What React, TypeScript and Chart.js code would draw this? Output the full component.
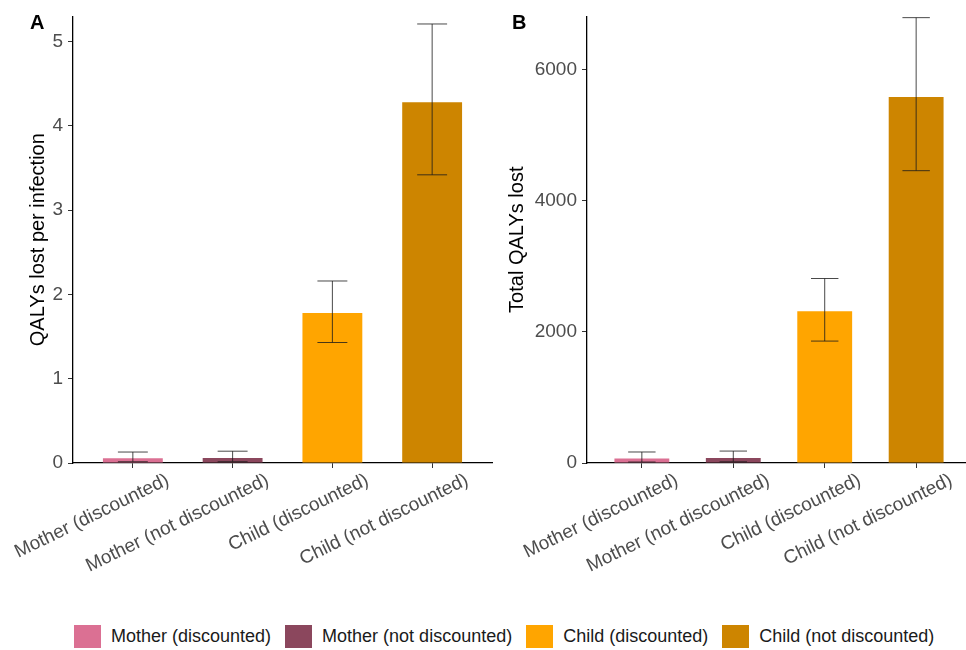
import React, { useEffect, useRef } from "react";
import { Chart, registerables } from "chart.js";
Chart.register(...registerables);

Chart.defaults.font.family = "'Liberation Sans', Arial, Helvetica, sans-serif";

const categories = [
  "Mother (discounted)",
  "Mother (not discounted)",
  "Child (discounted)",
  "Child (not discounted)",
];
const barColors = ["#DB7093", "#8B475D", "#FFA500", "#CD8500"];

const perInfection = [0.055, 0.06, 1.78, 4.28];
const perInfectionLow = [0.015, 0.015, 1.43, 3.42];
const perInfectionHigh = [0.13, 0.14, 2.16, 5.21];
const perInfectionTicks = [0, 1, 2, 3, 4, 5];

const totalLost = [70, 76, 2315, 5585];
const totalLow = [15, 18, 1860, 4460];
const totalHigh = [168, 182, 2815, 6795];
const totalTicks = [0, 2000, 4000, 6000];

const CANVAS_H = 600;
const PLOT_BOTTOM = 463;
const TICK_COLOR = "#4D4D4D";

type PanelProps = {
  values: number[];
  low: number[];
  high: number[];
  yMax: number;
  yTicks: number[];
  yTitle: string;
  label: string;
  labelX: number;
  left: number;
  width: number;
  yAxisWidth: number;
  titlePad: number;
  rightPad: number;
};

function Panel(p: PanelProps) {
  const ref = useRef<HTMLCanvasElement | null>(null);
  useEffect(() => {
    if (!ref.current) return;
    const errorBars = {
      id: "errorBars",
      afterDatasetsDraw(chart: any) {
        const { ctx } = chart;
        const x = chart.scales.x;
        const y = chart.scales.y;
        const capHalf = (x.getPixelForValue(1) - x.getPixelForValue(0)) * 0.15;
        ctx.save();
        ctx.strokeStyle = "#1a1a1a";
        ctx.lineWidth = 0.8;
        p.low.forEach((lo, i) => {
          const px = x.getPixelForValue(i);
          const yl = y.getPixelForValue(lo);
          const yh = y.getPixelForValue(p.high[i]);
          ctx.beginPath();
          ctx.moveTo(px, yl);
          ctx.lineTo(px, yh);
          ctx.moveTo(px - capHalf, yl);
          ctx.lineTo(px + capHalf, yl);
          ctx.moveTo(px - capHalf, yh);
          ctx.lineTo(px + capHalf, yh);
          ctx.stroke();
        });
        ctx.restore();
      },
    };
    const panelLabel = {
      id: "panelLabel",
      afterDraw(chart: any) {
        const { ctx } = chart;
        ctx.save();
        ctx.fillStyle = "#000";
        ctx.font = "bold 20px 'Liberation Sans', Arial, sans-serif";
        ctx.textAlign = "left";
        ctx.textBaseline = "alphabetic";
        ctx.fillText(p.label, p.labelX, 29);
        ctx.restore();
      },
    };
    const axisGrid = {
      drawOnChartArea: false,
      drawTicks: true,
      tickLength: 5,
      tickColor: "#333333",
      tickWidth: 1,
      offset: false,
    };
    const border = { display: true, color: "#000", width: 1.3 };
    const chart = new Chart(ref.current, {
      type: "bar",
      data: {
        datasets: [
          {
            data: p.values.map((v, i) => ({ x: i, y: v })),
            backgroundColor: barColors,
            borderWidth: 0,
            categoryPercentage: 1,
            barPercentage: 0.6,
          } as any,
        ],
      },
      options: {
        animation: false,
        responsive: false,
        devicePixelRatio: 1,
        layout: { padding: { top: 13, right: p.rightPad, left: 0, bottom: 0 } },
        plugins: { legend: { display: false }, tooltip: { enabled: false } },
        scales: {
          x: {
            type: "linear",
            offset: false,
            min: -0.6,
            max: 3.6,
            afterBuildTicks: (s: any) => {
              s.ticks = categories.map((_, i) => ({ value: i }));
            },
            afterFit: (s: any) => {
              s.height = CANVAS_H - PLOT_BOTTOM;
              s.paddingLeft = 0;
              s.paddingRight = 0;
            },
            ticks: {
              callback: (v: any) => categories[v as number],
              autoSkip: false,
              maxRotation: 26,
              minRotation: 26,
              color: TICK_COLOR,
              font: { size: 19 },
              padding: 1,
              labelOffset: 35,
            },
            grid: axisGrid,
            border,
          } as any,
          y: {
            min: 0,
            max: p.yMax,
            afterBuildTicks: (s: any) => {
              s.ticks = p.yTicks.map((v) => ({ value: v }));
            },
            afterFit: (s: any) => {
              s.width = p.yAxisWidth;
            },
            ticks: {
              color: TICK_COLOR,
              font: { size: 19 },
              padding: 5,
              callback: (v: any) => String(v),
            },
            grid: axisGrid,
            border,
            title: {
              display: true,
              text: p.yTitle,
              color: "#000",
              font: { size: 20 },
              padding: { top: p.titlePad, bottom: 0 },
            },
          } as any,
        },
      },
      plugins: [errorBars, panelLabel],
    });
    return () => chart.destroy();
  }, []);
  return (
    <canvas
      ref={ref}
      width={p.width}
      height={CANVAS_H}
      style={{ position: "absolute", left: p.left, top: 0, width: p.width, height: CANVAS_H }}
    />
  );
}

export default function App() {
  return (
    <div
      style={{
        position: "absolute",
        left: 0,
        top: 0,
        width: 966,
        height: 650,
        overflow: "hidden",
        background: "#fff",
        fontFamily: "'Liberation Sans', Arial, sans-serif",
      }}
    >
      <Panel
        values={perInfection}
        low={perInfectionLow}
        high={perInfectionHigh}
        yMax={5.3}
        yTicks={perInfectionTicks}
        yTitle="QALYs lost per infection"
        label="A"
        labelX={30}
        left={0}
        width={500}
        yAxisWidth={73}
        titlePad={26}
        rightPad={8}
      />
      <Panel
        values={totalLost}
        low={totalLow}
        high={totalHigh}
        yMax={6814}
        yTicks={totalTicks}
        yTitle="Total QALYs lost"
        label="B"
        labelX={19}
        left={493}
        width={478}
        yAxisWidth={94}
        titlePad={12}
        rightPad={0}
      />
      <div
        style={{
          position: "absolute",
          left: 74,
          top: 625,
          display: "flex",
          alignItems: "center",
          fontSize: 18,
          color: "#1a1a1a",
          whiteSpace: "nowrap",
        }}
      >
        {categories.map((c, i) => (
          <div key={c} style={{ display: "flex", alignItems: "center", marginRight: 14 }}>
            <span
              style={{ display: "inline-block", width: 27, height: 23, background: barColors[i], marginRight: 10 }}
            />
            <span>{c}</span>
          </div>
        ))}
      </div>
    </div>
  );
}
